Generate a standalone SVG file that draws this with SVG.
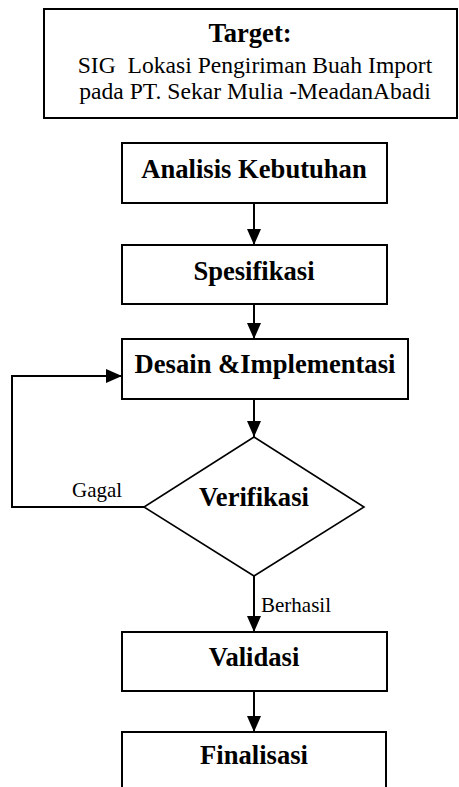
<svg xmlns="http://www.w3.org/2000/svg" width="459" height="787" viewBox="0 0 459 787">
<style>
.box{fill:#fff;stroke:#000;stroke-width:2}
.dia{fill:#fff;stroke:#000;stroke-width:1.6}
text{font-family:'Liberation Serif','Tinos','DejaVu Serif',serif;fill:#000}
.lbl{font-weight:bold;font-size:26.6px;text-anchor:middle}
.reg{font-size:23.6px;text-anchor:middle}
.small{font-size:21px}
.ln{fill:none;stroke:#000;stroke-width:2}
</style>
<defs>
<marker id="ah" markerWidth="16" markerHeight="14" refX="16" refY="7" orient="auto" markerUnits="userSpaceOnUse">
<path d="M0,0 L16,7 L0,14 Z" fill="#000"/>
</marker>
</defs>
<rect width="459" height="787" fill="#fff"/>
<g id="target">
<rect class="box" x="44" y="9" width="413" height="109" stroke-width="1.6"/>
<text class="lbl" x="250" y="42">Target:</text>
<text class="reg" x="255" y="73" xml:space="preserve">SIG  Lokasi Pengiriman Buah Import</text>
<text class="reg" x="255" y="99">pada PT. Sekar Mulia -MeadanAbadi</text>
</g>
<g id="connectors">
<line class="ln" x1="254" y1="203" x2="254" y2="245" marker-end="url(#ah)"/>
<line class="ln" x1="254" y1="304" x2="254" y2="339" marker-end="url(#ah)"/>
<line class="ln" x1="254" y1="399" x2="254" y2="437" marker-end="url(#ah)"/>
<polyline class="ln" points="144,507 12,507 12,376 122,376" marker-end="url(#ah)"/>
<line class="ln" x1="254" y1="576" x2="254" y2="632" marker-end="url(#ah)"/>
<line class="ln" x1="254" y1="691" x2="254" y2="732" marker-end="url(#ah)"/>
<text class="small" x="72" y="497">Gagal</text>
<text class="small" x="261" y="612">Berhasil</text>
</g>
<g id="analisis">
<rect class="box" x="122" y="143" width="265" height="60"/>
<text class="lbl" x="254" y="178">Analisis Kebutuhan</text>
</g>
<g id="spesifikasi">
<rect class="box" x="122" y="245" width="265" height="59"/>
<text class="lbl" x="254" y="280">Spesifikasi</text>
</g>
<g id="desain">
<rect class="box" x="122" y="339" width="286" height="60"/>
<text class="lbl" x="265" y="373">Desain &amp;Implementasi</text>
</g>
<g id="verifikasi">
<polygon class="dia" points="254,437 364,507 254,576 144,507"/>
<text class="lbl" x="254" y="506">Verifikasi</text>
</g>
<g id="validasi">
<rect class="box" x="122" y="632" width="265" height="59"/>
<text class="lbl" x="254" y="666">Validasi</text>
</g>
<g id="finalisasi">
<rect class="box" x="122" y="732" width="264" height="80"/>
<text class="lbl" x="254" y="764">Finalisasi</text>
</g>
</svg>
